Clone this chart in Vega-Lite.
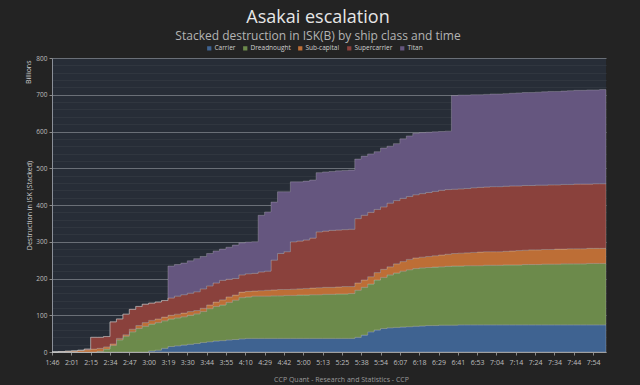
{
  "$schema": "https://vega.github.io/schema/vega-lite/v6.json",
  "width": 554,
  "height": 294,
  "autosize": "none",
  "padding": {"left": 52, "top": 58, "right": 34, "bottom": 33},
  "background": "#232323",
  "config": {"view": {"fill": "#272d37", "stroke": null}, "font": "Open Sans"},
  "title": {
    "text": "Asakai escalation",
    "subtitle": "Stacked destruction in ISK(B) by ship class and time",
    "anchor": "middle",
    "frame": "group",
    "dx": -11,
    "offset": 3,
    "fontSize": 18,
    "fontWeight": "normal",
    "color": "#e6e6e6",
    "subtitleFontSize": 12,
    "subtitleColor": "#b4b4b4",
    "subtitlePadding": 4
  },
  "data": {"values": [
    {"t":"1:46","Carrier":0,"Dreadnought":0,"Sub-capital":0,"Supercarrier":0,"Titan":0},
    {"t":"1:51","Carrier":0,"Dreadnought":0,"Sub-capital":1,"Supercarrier":0,"Titan":0},
    {"t":"1:56","Carrier":0,"Dreadnought":0,"Sub-capital":2,"Supercarrier":0,"Titan":0},
    {"t":"2:01","Carrier":0,"Dreadnought":0,"Sub-capital":3,"Supercarrier":0,"Titan":0},
    {"t":"2:06","Carrier":0,"Dreadnought":0,"Sub-capital":4,"Supercarrier":1,"Titan":0},
    {"t":"2:10","Carrier":0,"Dreadnought":0,"Sub-capital":6,"Supercarrier":2,"Titan":0},
    {"t":"2:15","Carrier":0,"Dreadnought":0,"Sub-capital":8,"Supercarrier":32,"Titan":0},
    {"t":"2:21","Carrier":0,"Dreadnought":2,"Sub-capital":8,"Supercarrier":30,"Titan":0},
    {"t":"2:28","Carrier":0,"Dreadnought":8,"Sub-capital":6,"Supercarrier":28,"Titan":0},
    {"t":"2:34","Carrier":0,"Dreadnought":18,"Sub-capital":4,"Supercarrier":60,"Titan":0},
    {"t":"2:38","Carrier":0,"Dreadnought":33,"Sub-capital":4,"Supercarrier":53,"Titan":0},
    {"t":"2:43","Carrier":0,"Dreadnought":43,"Sub-capital":4,"Supercarrier":56,"Titan":0},
    {"t":"2:47","Carrier":0,"Dreadnought":55,"Sub-capital":7,"Supercarrier":54,"Titan":0},
    {"t":"2:51","Carrier":0,"Dreadnought":64,"Sub-capital":8,"Supercarrier":52,"Titan":0},
    {"t":"2:56","Carrier":0,"Dreadnought":70,"Sub-capital":10,"Supercarrier":50,"Titan":0},
    {"t":"3:00","Carrier":3,"Dreadnought":73,"Sub-capital":10,"Supercarrier":47,"Titan":0},
    {"t":"3:06","Carrier":5,"Dreadnought":75,"Sub-capital":10,"Supercarrier":46,"Titan":0},
    {"t":"3:13","Carrier":10,"Dreadnought":75,"Sub-capital":10,"Supercarrier":45,"Titan":0},
    {"t":"3:19","Carrier":15,"Dreadnought":75,"Sub-capital":10,"Supercarrier":47,"Titan":87},
    {"t":"3:23","Carrier":17,"Dreadnought":76,"Sub-capital":10,"Supercarrier":49,"Titan":86},
    {"t":"3:26","Carrier":19,"Dreadnought":77,"Sub-capital":10,"Supercarrier":50,"Titan":86},
    {"t":"3:30","Carrier":21,"Dreadnought":79,"Sub-capital":10,"Supercarrier":50,"Titan":88},
    {"t":"3:35","Carrier":23,"Dreadnought":81,"Sub-capital":9,"Supercarrier":51,"Titan":90},
    {"t":"3:39","Carrier":26,"Dreadnought":84,"Sub-capital":9,"Supercarrier":53,"Titan":88},
    {"t":"3:44","Carrier":28,"Dreadnought":90,"Sub-capital":10,"Supercarrier":52,"Titan":88},
    {"t":"3:48","Carrier":30,"Dreadnought":94,"Sub-capital":12,"Supercarrier":52,"Titan":87},
    {"t":"3:51","Carrier":31,"Dreadnought":97,"Sub-capital":14,"Supercarrier":53,"Titan":85},
    {"t":"3:55","Carrier":33,"Dreadnought":102,"Sub-capital":15,"Supercarrier":48,"Titan":87},
    {"t":"4:00","Carrier":34,"Dreadnought":107,"Sub-capital":14,"Supercarrier":45,"Titan":91},
    {"t":"4:05","Carrier":36,"Dreadnought":112,"Sub-capital":15,"Supercarrier":47,"Titan":87},
    {"t":"4:10","Carrier":37,"Dreadnought":113,"Sub-capital":15,"Supercarrier":48,"Titan":86},
    {"t":"4:16","Carrier":37,"Dreadnought":115,"Sub-capital":14,"Supercarrier":48,"Titan":86},
    {"t":"4:23","Carrier":37,"Dreadnought":115,"Sub-capital":15,"Supercarrier":51,"Titan":154},
    {"t":"4:29","Carrier":37,"Dreadnought":115,"Sub-capital":16,"Supercarrier":52,"Titan":161},
    {"t":"4:33","Carrier":37,"Dreadnought":116,"Sub-capital":16,"Supercarrier":81,"Titan":158},
    {"t":"4:38","Carrier":37,"Dreadnought":116,"Sub-capital":17,"Supercarrier":98,"Titan":168},
    {"t":"4:42","Carrier":37,"Dreadnought":117,"Sub-capital":16,"Supercarrier":103,"Titan":163},
    {"t":"4:48","Carrier":37,"Dreadnought":117,"Sub-capital":17,"Supercarrier":129,"Titan":163},
    {"t":"4:54","Carrier":37,"Dreadnought":118,"Sub-capital":17,"Supercarrier":130,"Titan":161},
    {"t":"5:00","Carrier":37,"Dreadnought":118,"Sub-capital":18,"Supercarrier":132,"Titan":160},
    {"t":"5:04","Carrier":37,"Dreadnought":119,"Sub-capital":18,"Supercarrier":136,"Titan":158},
    {"t":"5:09","Carrier":37,"Dreadnought":119,"Sub-capital":19,"Supercarrier":152,"Titan":161},
    {"t":"5:13","Carrier":37,"Dreadnought":120,"Sub-capital":19,"Supercarrier":153,"Titan":161},
    {"t":"5:17","Carrier":37,"Dreadnought":120,"Sub-capital":19,"Supercarrier":155,"Titan":160},
    {"t":"5:21","Carrier":37,"Dreadnought":121,"Sub-capital":19,"Supercarrier":155,"Titan":161},
    {"t":"5:25","Carrier":37,"Dreadnought":121,"Sub-capital":20,"Supercarrier":155,"Titan":161},
    {"t":"5:29","Carrier":37,"Dreadnought":122,"Sub-capital":19,"Supercarrier":156,"Titan":161},
    {"t":"5:34","Carrier":40,"Dreadnought":128,"Sub-capital":20,"Supercarrier":175,"Titan":162},
    {"t":"5:38","Carrier":46,"Dreadnought":130,"Sub-capital":20,"Supercarrier":176,"Titan":161},
    {"t":"5:43","Carrier":55,"Dreadnought":130,"Sub-capital":20,"Supercarrier":175,"Titan":159},
    {"t":"5:49","Carrier":60,"Dreadnought":136,"Sub-capital":20,"Supercarrier":172,"Titan":157},
    {"t":"5:54","Carrier":64,"Dreadnought":139,"Sub-capital":22,"Supercarrier":170,"Titan":160},
    {"t":"5:58","Carrier":66,"Dreadnought":144,"Sub-capital":22,"Supercarrier":173,"Titan":155},
    {"t":"6:03","Carrier":67,"Dreadnought":148,"Sub-capital":25,"Supercarrier":172,"Titan":155},
    {"t":"6:07","Carrier":68,"Dreadnought":152,"Sub-capital":26,"Supercarrier":172,"Titan":162},
    {"t":"6:11","Carrier":69,"Dreadnought":155,"Sub-capital":28,"Supercarrier":171,"Titan":165},
    {"t":"6:14","Carrier":70,"Dreadnought":157,"Sub-capital":29,"Supercarrier":172,"Titan":167},
    {"t":"6:18","Carrier":71,"Dreadnought":158,"Sub-capital":29,"Supercarrier":173,"Titan":166},
    {"t":"6:22","Carrier":72,"Dreadnought":158,"Sub-capital":30,"Supercarrier":174,"Titan":164},
    {"t":"6:25","Carrier":72,"Dreadnought":159,"Sub-capital":31,"Supercarrier":175,"Titan":162},
    {"t":"6:29","Carrier":73,"Dreadnought":159,"Sub-capital":32,"Supercarrier":176,"Titan":160},
    {"t":"6:33","Carrier":73,"Dreadnought":160,"Sub-capital":33,"Supercarrier":176,"Titan":159},
    {"t":"6:37","Carrier":73,"Dreadnought":161,"Sub-capital":34,"Supercarrier":175,"Titan":255},
    {"t":"6:41","Carrier":74,"Dreadnought":160,"Sub-capital":35,"Supercarrier":175,"Titan":255},
    {"t":"6:45","Carrier":74,"Dreadnought":161,"Sub-capital":35,"Supercarrier":175,"Titan":254},
    {"t":"6:49","Carrier":74,"Dreadnought":161,"Sub-capital":36,"Supercarrier":176,"Titan":253},
    {"t":"6:53","Carrier":74,"Dreadnought":161,"Sub-capital":37,"Supercarrier":176,"Titan":252},
    {"t":"6:57","Carrier":74,"Dreadnought":162,"Sub-capital":37,"Supercarrier":176,"Titan":252},
    {"t":"7:00","Carrier":74,"Dreadnought":162,"Sub-capital":37,"Supercarrier":177,"Titan":252},
    {"t":"7:04","Carrier":74,"Dreadnought":162,"Sub-capital":37,"Supercarrier":177,"Titan":252},
    {"t":"7:07","Carrier":74,"Dreadnought":163,"Sub-capital":37,"Supercarrier":177,"Titan":252},
    {"t":"7:11","Carrier":74,"Dreadnought":163,"Sub-capital":38,"Supercarrier":177,"Titan":252},
    {"t":"7:14","Carrier":74,"Dreadnought":163,"Sub-capital":39,"Supercarrier":176,"Titan":253},
    {"t":"7:17","Carrier":74,"Dreadnought":164,"Sub-capital":39,"Supercarrier":176,"Titan":253},
    {"t":"7:21","Carrier":74,"Dreadnought":164,"Sub-capital":40,"Supercarrier":175,"Titan":253},
    {"t":"7:24","Carrier":74,"Dreadnought":164,"Sub-capital":40,"Supercarrier":176,"Titan":253},
    {"t":"7:27","Carrier":74,"Dreadnought":165,"Sub-capital":40,"Supercarrier":175,"Titan":254},
    {"t":"7:31","Carrier":74,"Dreadnought":165,"Sub-capital":40,"Supercarrier":176,"Titan":254},
    {"t":"7:34","Carrier":74,"Dreadnought":165,"Sub-capital":41,"Supercarrier":175,"Titan":254},
    {"t":"7:37","Carrier":74,"Dreadnought":166,"Sub-capital":40,"Supercarrier":176,"Titan":254},
    {"t":"7:41","Carrier":74,"Dreadnought":166,"Sub-capital":41,"Supercarrier":175,"Titan":255},
    {"t":"7:44","Carrier":74,"Dreadnought":166,"Sub-capital":41,"Supercarrier":176,"Titan":255},
    {"t":"7:47","Carrier":74,"Dreadnought":166,"Sub-capital":41,"Supercarrier":176,"Titan":255},
    {"t":"7:51","Carrier":74,"Dreadnought":167,"Sub-capital":41,"Supercarrier":175,"Titan":256},
    {"t":"7:54","Carrier":74,"Dreadnought":167,"Sub-capital":41,"Supercarrier":176,"Titan":255},
    {"t":"7:57","Carrier":74,"Dreadnought":167,"Sub-capital":41,"Supercarrier":176,"Titan":256},
    {"t":"8:00","Carrier":74,"Dreadnought":167,"Sub-capital":41,"Supercarrier":176,"Titan":256}
  ]},
  "transform": [
    {"fold": ["Carrier", "Dreadnought", "Sub-capital", "Supercarrier", "Titan"], "as": ["ship", "isk"]}
  ],
  "layer": [
    {
      "mark": {"type": "area", "interpolate": "step-after", "stroke": "#d0d0d0", "strokeWidth": 0.5, "strokeOpacity": 0.55},
      "encoding": {
        "x": {
          "field": "t", "type": "ordinal", "sort": null,
          "scale": {"type": "point", "padding": 0},
          "axis": {
            "values": ["1:46","2:01","2:15","2:34","2:47","3:00","3:19","3:30","3:44","3:55","4:10","4:29","4:42","5:00","5:13","5:25","5:38","5:54","6:07","6:18","6:29","6:41","6:53","7:04","7:14","7:24","7:34","7:44","7:54"],
            "labelAngle": 0, "labelFontSize": 7, "labelColor": "#bdbdbd", "labelPadding": 3,
            "tickColor": "#8a8a8a", "tickSize": 3, "domainColor": "#9a9a9a", "grid": false,
            "title": "CCP Quant - Research and Statistics - CCP",
            "titleFontSize": 7, "titleColor": "#9a9a9a", "titleFontWeight": "normal", "titlePadding": 10, "titleX": 289
          }
        },
        "y": {
          "field": "isk", "type": "quantitative", "stack": "zero",
          "scale": {"domain": [0, 800], "nice": false},
          "axis": {
            "orient": "left",
            "values": [0,20,40,60,80,100,120,140,160,180,200,220,240,260,280,300,320,340,360,380,400,420,440,460,480,500,520,540,560,580,600,620,640,660,680,700,720,740,760,780,800],
            "labelExpr": "datum.value % 100 === 0 ? datum.label : ''",
            "grid": true,
            "gridColor": {"condition": {"test": "datum.value % 100 === 0", "value": "#6a6f77"}, "value": "#30363f"},
            "gridWidth": 1,
            "tickColor": {"condition": {"test": "datum.value % 100 === 0", "value": "#8a8a8a"}, "value": "transparent"},
            "tickSize": 3,
            "labelFontSize": 6.5, "labelColor": "#bdbdbd", "labelPadding": 2,
            "domainColor": "#8a8f98",
            "title": "Destruction in ISK (Stacked)",
            "titleFontSize": 7, "titleColor": "#cfcfcf", "titleFontWeight": "normal", "titlePadding": 3
          }
        },
        "color": {
          "field": "ship", "type": "nominal",
          "scale": {
            "domain": ["Carrier", "Dreadnought", "Sub-capital", "Supercarrier", "Titan"],
            "range": ["#3f6391", "#6c8a4b", "#bd6e36", "#8a413c", "#65567f"]
          },
          "legend": {
            "orient": "none", "legendX": 154, "legendY": -13, "direction": "horizontal",
            "title": null, "symbolType": "square", "symbolSize": 18, "symbolStrokeWidth": 0,
            "labelFontSize": 6.5, "labelColor": "#cfcfcf", "columnPadding": 6, "labelOffset": 2
          }
        },
        "order": {"field": "ship", "sort": "ascending"}
      }
    },
    {
      "mark": {"type": "rule", "strokeOpacity": 0},
      "encoding": {
        "y": {
          "datum": 0, "type": "quantitative",
          "axis": {
            "orient": "left",
            "title": "Billions", "labels": false, "ticks": false, "domain": false, "grid": false,
            "titleFontSize": 7, "titleColor": "#cfcfcf", "titleFontWeight": "normal",
            "titleX": -21, "titleY": 2, "titleAngle": -90, "titleAlign": "right", "titleBaseline": "bottom"
          }
        }
      }
    }
  ],
  "resolve": {"axis": {"y": "independent"}}
}
